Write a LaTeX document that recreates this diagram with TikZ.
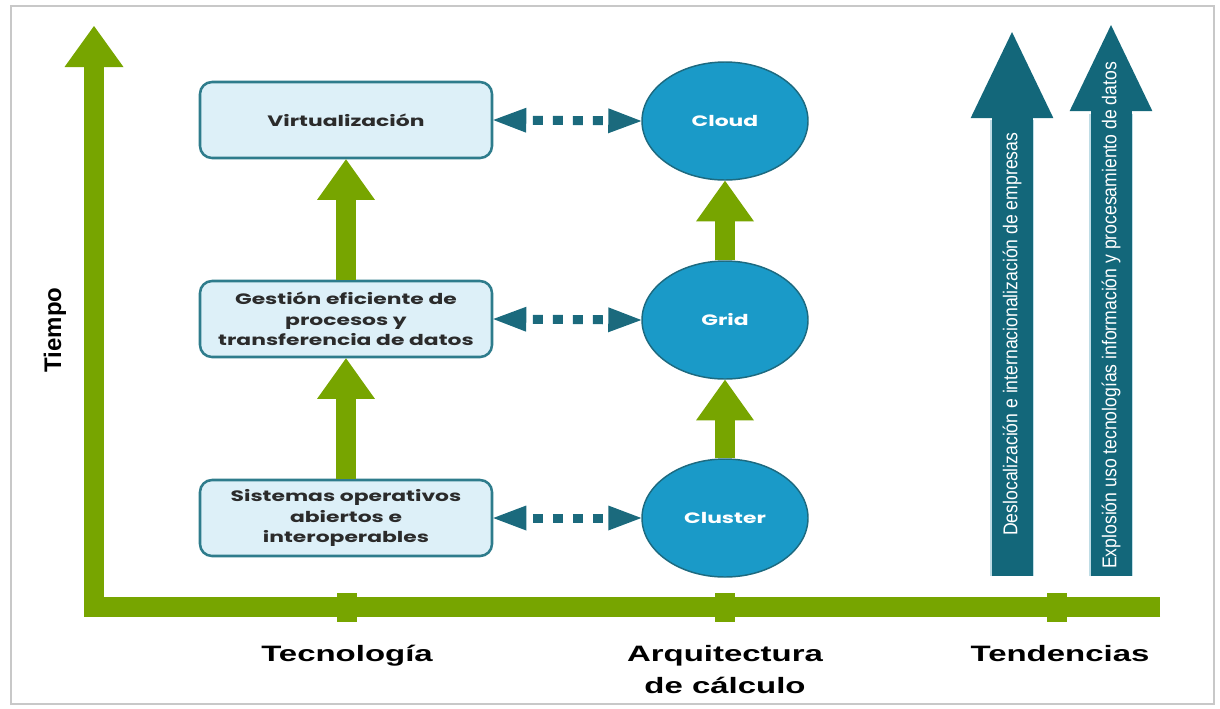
\documentclass[tikz,border=0pt]{standalone}
\usepackage{fontspec}
\usetikzlibrary{arrows.meta,shapes.geometric}
\setmainfont{Liberation Sans}
\newfontfamily\labelfont[FakeStretch=1.48]{Liberation Sans}
\newfontfamily\boxfont[FakeStretch=1.45]{Poppins}
\newfontfamily\trendfont[FakeStretch=0.88]{Liberation Sans}

\definecolor{axisgreen}{HTML}{77A500}
\definecolor{boxfill}{HTML}{DDF0F8}
\definecolor{boxline}{HTML}{2E7C8C}
\definecolor{archfill}{HTML}{1A9AC8}
\definecolor{archline}{HTML}{1D6A80}
\definecolor{linkteal}{HTML}{1B6A7D}
\definecolor{trendteal}{HTML}{13677A}
\definecolor{trendedge}{HTML}{BFDDE6}
\definecolor{inktext}{HTML}{2B2B2B}
\definecolor{framegray}{HTML}{C8C8C8}

\begin{document}
\begin{tikzpicture}[x=0.75pt,y=-0.75pt,
  axisline/.style={draw=axisgreen,line width=15pt,line join=miter,
    -{Triangle[width=44.25pt,length=30.75pt,line width=0pt]}},
  tickmark/.style={fill=axisgreen},
  stepbox/.style={draw=boxline,fill=boxfill,line width=1.9pt,rounded corners=9pt,
    minimum width=219pt,minimum height=57pt,inner sep=0pt,align=center,
    text=inktext,font=\boxfont\bfseries\fontsize{11.3pt}{15.2pt}\selectfont},
  archnode/.style={ellipse,draw=archline,fill=archfill,line width=1.1pt,
    minimum width=124.5pt,minimum height=88.5pt,inner sep=0pt,
    text=white,font=\boxfont\bfseries\fontsize{11.3pt}{13pt}\selectfont},
  growarrow/.style={draw=axisgreen,line width=15pt,
    -{Triangle[width=43.5pt,length=30.5pt,line width=0pt]}},
  linkarrow/.style={draw=linkteal,line width=6.75pt,
    dash pattern=on 7.5pt off 7.5pt,dash phase=10pt,
    {Triangle[width=18.75pt,length=24.75pt,line width=0pt]}-{Triangle[width=18.75pt,length=24.75pt,line width=0pt]}},
  trendshaft/.style={draw=trendedge,line width=32.5pt},
  trendarrow/.style={draw=trendteal,line width=30.75pt,
    -{Triangle[width=62pt,length=64.5pt,line width=0pt]}},
  trendtext/.style={rotate=90,anchor=west,inner sep=0pt,text=white,
    font=\trendfont\fontsize{15pt}{18pt}\selectfont},
  axislabel/.style={text=black,align=center,
    font=\labelfont\bfseries\fontsize{16.7pt}{24pt}\selectfont}
]
\useasboundingbox (0,0) rectangle (1220,708);

% outer frame
\draw[framegray,line width=1.5pt] (11,6) rectangle (1214,704);

% time / category axes
\coordinate (axisend) at (1160,607);
\coordinate (axistip) at (94,26);
\draw[axisline] (axisend) -| (axistip);
\foreach \tx in {347,725,1057}
  \fill[tickmark] (\tx-10,593) rectangle (\tx+10,622);

% technology boxes
\node[stepbox] (virt) at (346,120) {Virtualización};
\node[stepbox] (gest) at (346,319) {Gestión eficiente de\\procesos y\\transferencia de datos};
\node[stepbox] (sist) at (346,518) {Sistemas operativos\\abiertos e\\interoperables};

% computing architectures
\node[archnode] (cloud) at (725,121) {Cloud};
\node[archnode] (grid) at (725,320) {Grid};
\node[archnode] (cluster) at (725,518) {Cluster};

% evolution arrows
\draw[growarrow] (sist.north) -- (gest.south);
\draw[growarrow] (gest.north) -- (virt.south);
\draw[growarrow] (cluster.north) -- (grid.south);
\draw[growarrow] (grid.north) -- (cloud.south);

% links technology <-> architecture
\draw[linkarrow] (virt.east) -- (cloud.west);
\draw[linkarrow] (gest.east) -- (grid.west);
\draw[linkarrow] (sist.east) -- (cluster.west);

% trends
\coordinate (tbaseA) at (1012,576);
\coordinate (tneckA) at (1012,120);
\coordinate (ttipA) at (1012,32);
\coordinate (tbaseB) at (1111,576);
\coordinate (tneckB) at (1111,114);
\coordinate (ttipB) at (1111,25);
\draw[trendshaft] (tbaseA) -- (tneckA);
\draw[trendshaft] (tbaseB) -- (tneckB);
\draw[trendarrow] (tbaseA) -- (ttipA);
\draw[trendarrow] (tbaseB) -- (ttipB);
\node[trendtext] (trendA) at (1012,536) {Deslocalización e internacionalización de empresas};
\node[trendtext] (trendB) at (1111,569) {Explosión uso tecnologías información y procesamiento de datos};

% axis labels
\node[rotate=90,text=black,font=\bfseries\fontsize{18pt}{20pt}\selectfont] (tiempo) at (55,330) {Tiempo};
\node[axislabel,anchor=base] (tecno) at (347,661) {Tecnología};
\node[axislabel,anchor=base] (arqui) at (725,661) {Arquitectura};
\node[axislabel,anchor=base] (calc) at (725,693) {de cálculo};
\node[axislabel,anchor=base] (tend) at (1060,661) {Tendencias};
\end{tikzpicture}
\end{document}
